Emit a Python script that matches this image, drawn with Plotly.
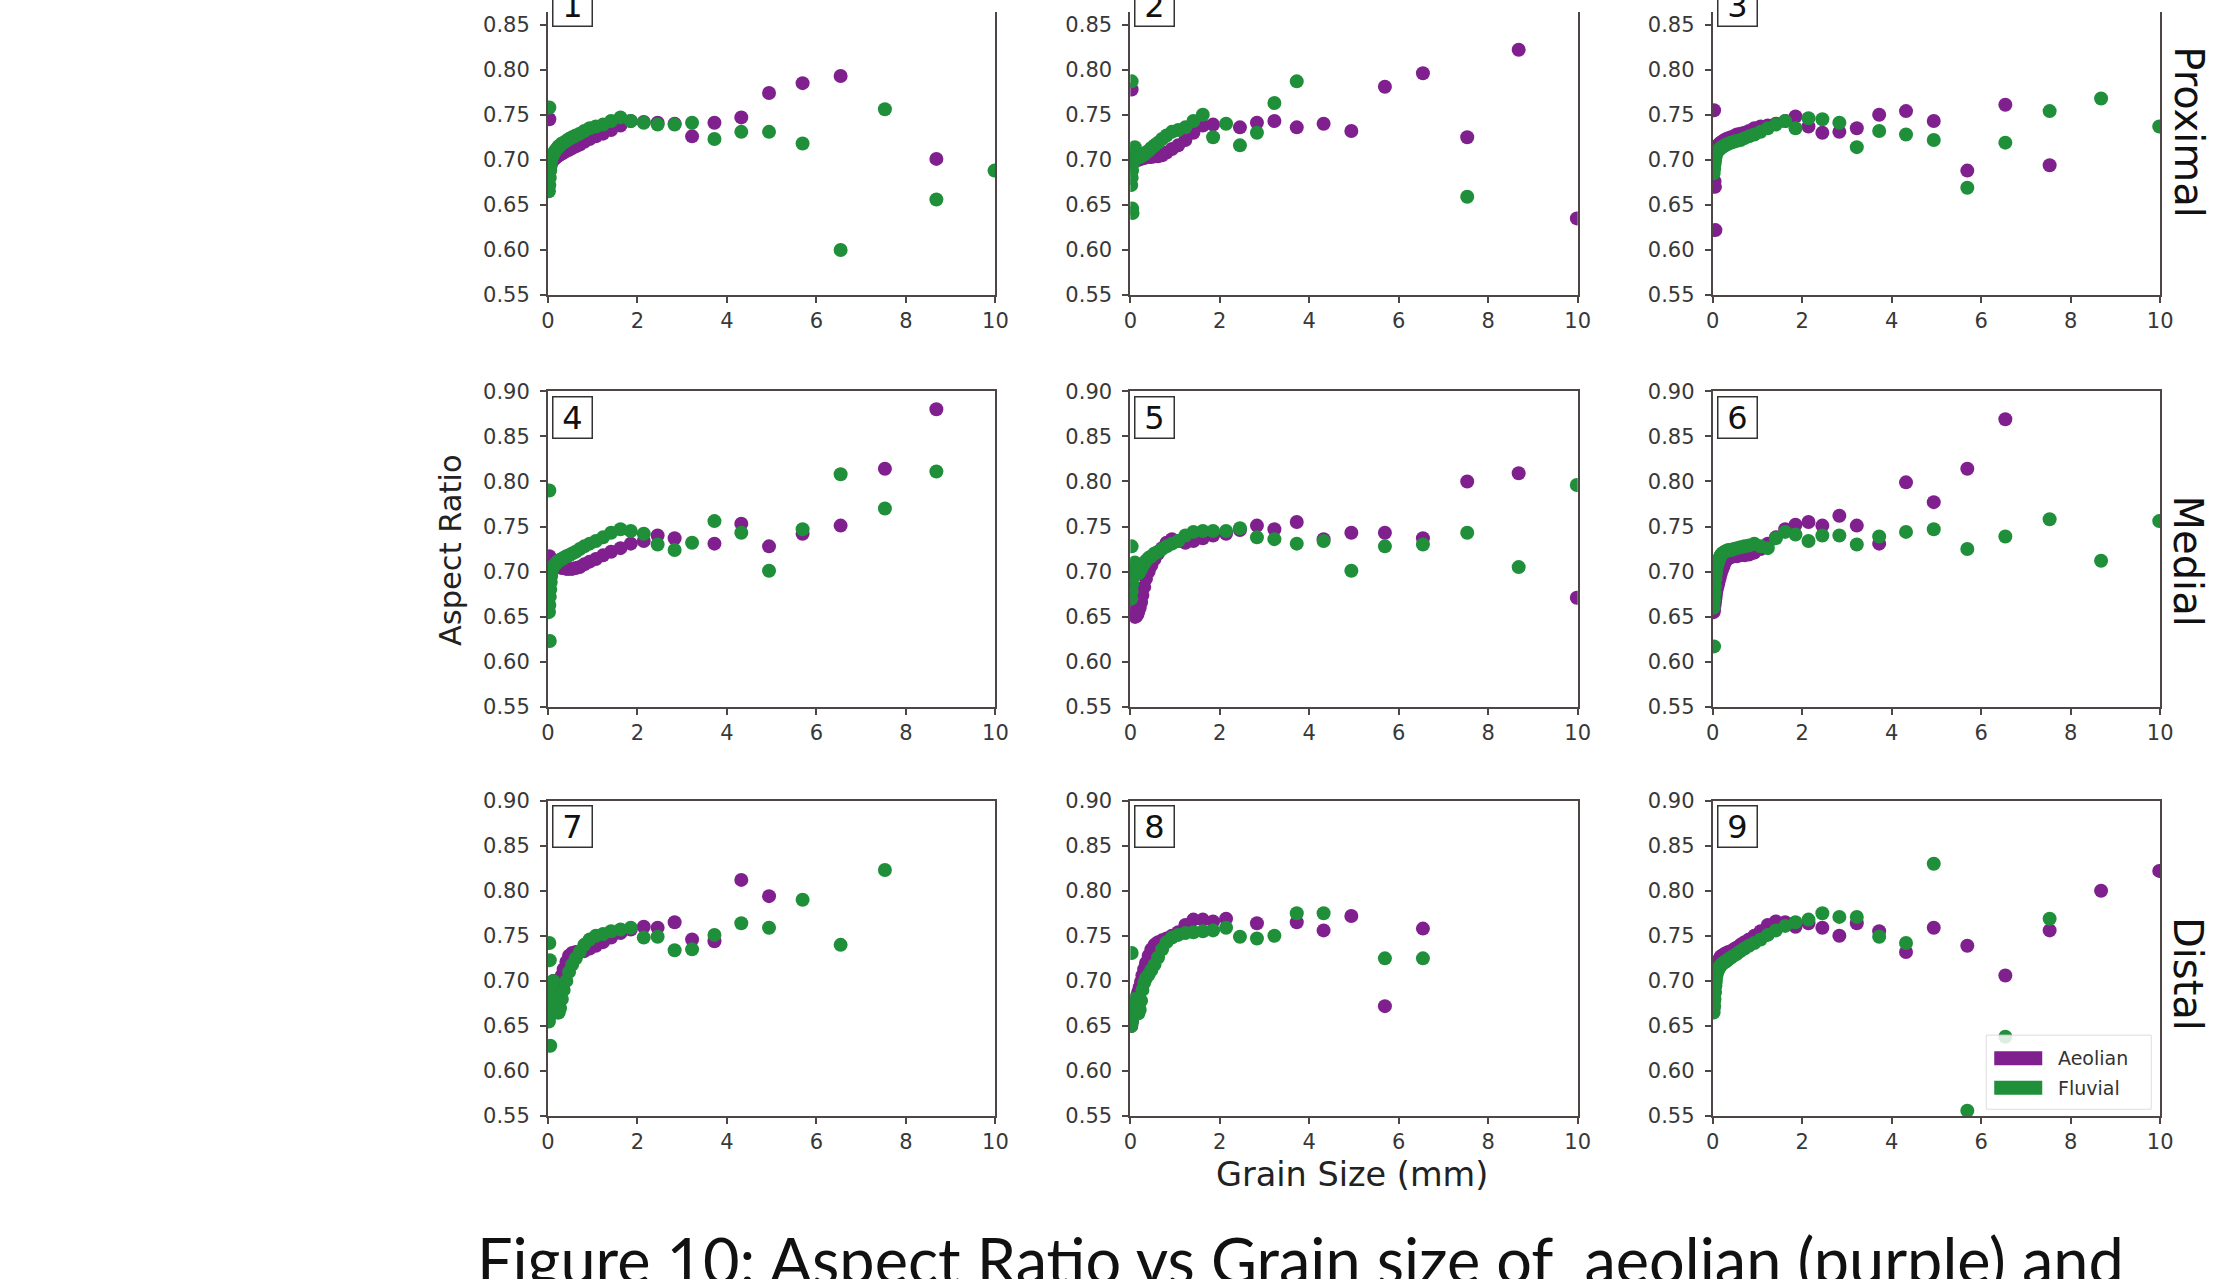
import plotly.graph_objects as go

W, H = 2227, 1279
# measured affine offset between figure pixels and the photographed page
AX, BX = 0.991, 5.8
AY, BY = 0.9805, 11.6

# Grain-size bins (mm) shared by all panels
GRAIN = [0.03, 0.04, 0.05, 0.06,
         0.02, 0.03, 0.04, 0.05, 0.06, 0.07, 0.08, 0.10,
         0.12, 0.14, 0.16, 0.18, 0.21, 0.24, 0.27, 0.31, 0.35, 0.41, 0.47, 0.54,
         0.62, 0.71, 0.81, 0.93, 1.07, 1.23, 1.41, 1.62, 1.85, 2.14, 2.45,
         2.83, 3.22, 3.72, 4.32, 4.94, 5.69, 6.54, 7.53, 8.68, 9.98]

N = None
# Panel 1
A1 = [0.745, N, N, N,
      0.682, 0.686, 0.690, 0.693, 0.695, 0.697, 0.698, 0.699,
      0.700, 0.701, 0.702, 0.703, 0.704, 0.705, 0.706, 0.707, 0.708, 0.710, 0.711, 0.713,
      0.715, 0.717, 0.720, 0.723, 0.726, 0.729, 0.733, 0.738, 0.743, 0.742, 0.741,
      0.740, 0.726, 0.741, 0.747, 0.774, 0.785, 0.793, N, 0.701, N]
F1 = [0.758, N, N, N,
      0.665, 0.672, 0.680, 0.688, 0.694, 0.699, 0.702, 0.704,
      0.706, 0.708, 0.710, 0.711, 0.713, 0.715, 0.716, 0.718, 0.719, 0.721, 0.723, 0.725,
      0.727, 0.729, 0.732, 0.735, 0.737, 0.739, 0.743, 0.747, 0.743, 0.741, 0.739,
      0.739, 0.741, 0.723, 0.731, 0.731, 0.718, 0.600, 0.756, 0.656, 0.688]
# Panel 2
A2 = [0.778, N, N, N,
      0.695, 0.697, 0.698, 0.699, 0.700, 0.700, 0.700, 0.700,
      0.700, 0.700, 0.700, 0.700, 0.701, 0.701, 0.702, 0.702, 0.703, 0.703, 0.703, 0.704,
      0.704, 0.705, 0.708, 0.712, 0.716, 0.722, 0.730, 0.738, 0.739, N, 0.736,
      0.741, 0.743, 0.736, 0.740, 0.732, 0.781, 0.796, 0.725, 0.822, 0.635]
F2 = [0.787, 0.646, 0.641, N,
      0.672, 0.680, 0.688, 0.695, 0.702, 0.708, 0.712, 0.714,
      0.702, 0.702, 0.702, 0.703, 0.703, 0.704, 0.705, 0.706, 0.708, 0.710, 0.713, 0.716,
      0.719, 0.723, 0.727, 0.731, 0.733, 0.736, 0.743, 0.750, 0.725, 0.740, 0.716,
      0.730, 0.763, 0.787, N, N, N, N, 0.659, N, N]
# Panel 3
A3 = [0.755, 0.676, 0.670, 0.622,
      0.690, 0.697, 0.703, 0.707, 0.710, 0.712, 0.714, 0.715,
      0.716, 0.717, 0.718, 0.719, 0.720, 0.721, 0.722, 0.723, 0.724, 0.725, 0.726, 0.728,
      0.729, 0.730, 0.732, 0.735, 0.737, 0.738, 0.740, 0.743, 0.748, 0.737, 0.730,
      0.731, 0.735, 0.750, 0.754, 0.743, 0.688, 0.761, 0.694, N, N]
F3 = [N, N, N, N,
      0.685, 0.690, 0.695, 0.699, 0.702, 0.705, 0.707, 0.709,
      0.710, 0.711, 0.712, 0.713, 0.714, 0.715, 0.716, 0.717, 0.718, 0.719, 0.720, 0.721,
      0.722, 0.724, 0.726, 0.728, 0.731, 0.735, 0.739, 0.743, 0.735, 0.746, 0.745,
      0.741, 0.714, 0.732, 0.728, 0.722, 0.669, 0.719, 0.754, 0.768, 0.737]
# Panel 4
A4 = [0.717, N, N, N,
      0.700, 0.702, 0.703, 0.704, 0.704, 0.705, 0.705, 0.705,
      0.705, 0.705, 0.705, 0.705, 0.705, 0.705, 0.705, 0.704, 0.704, 0.703, 0.703, 0.703,
      0.704, 0.705, 0.708, 0.711, 0.714, 0.718, 0.722, 0.726, 0.731, 0.734, 0.740,
      0.737, N, 0.731, 0.753, 0.728, 0.742, 0.751, 0.814, 0.880, N]
F4 = [0.790, 0.623, N, N,
      0.655, 0.663, 0.672, 0.680, 0.688, 0.695, 0.700, 0.704,
      0.706, 0.707, 0.708, 0.709, 0.711, 0.712, 0.713, 0.714, 0.715, 0.717, 0.718, 0.720,
      0.722, 0.725, 0.728, 0.731, 0.734, 0.738, 0.743, 0.747, 0.745, 0.742, 0.730,
      0.724, 0.732, 0.756, 0.743, 0.701, 0.747, 0.808, 0.770, 0.811, N]
# Panel 5
A5 = [N, N, N, N,
      0.700, 0.690, 0.680, 0.670, 0.662, 0.656, 0.652, 0.650,
      0.650, 0.651, 0.653, 0.656, 0.660, 0.666, 0.674, 0.683, 0.692, 0.700, 0.707, 0.714,
      0.720, 0.726, 0.732, 0.736, 0.734, 0.732, 0.734, 0.737, 0.740, 0.742, 0.746,
      0.751, 0.747, 0.755, 0.736, 0.743, 0.743, 0.737, 0.800, 0.809, 0.671]
F5 = [0.728, N, N, N,
      0.670, 0.678, 0.686, 0.694, 0.700, 0.705, 0.708, 0.710,
      0.705, 0.700, 0.698, 0.698, 0.700, 0.703, 0.706, 0.709, 0.712, 0.715, 0.717, 0.720,
      0.722, 0.725, 0.728, 0.731, 0.734, 0.740, 0.744, 0.745, 0.745, 0.745, 0.748,
      0.738, 0.736, 0.731, 0.734, 0.701, 0.728, 0.730, 0.743, 0.705, 0.796]
# Panel 6
A6 = [N, N, N, N,
      0.655, 0.658, 0.662, 0.666, 0.670, 0.674, 0.678, 0.682,
      0.686, 0.690, 0.694, 0.698, 0.702, 0.706, 0.710, 0.713, 0.715, 0.716, 0.717, 0.717,
      0.718, 0.718, 0.719, 0.721, 0.725, 0.731, 0.738, 0.747, 0.752, 0.755, 0.751,
      0.762, 0.751, 0.731, 0.799, 0.777, 0.814, 0.869, N, N, N]
F6 = [0.617, N, N, N,
      0.660, 0.668, 0.676, 0.684, 0.692, 0.698, 0.703, 0.707,
      0.710, 0.713, 0.716, 0.718, 0.720, 0.721, 0.722, 0.723, 0.724, 0.724, 0.725, 0.726,
      0.727, 0.728, 0.729, 0.731, 0.728, 0.726, 0.737, 0.744, 0.741, 0.734, 0.740,
      0.740, 0.730, 0.739, 0.744, 0.747, 0.725, 0.739, 0.758, 0.712, 0.756]
# Panel 7
A7 = [N, N, N, N,
      0.660, 0.666, 0.672, 0.678, 0.684, 0.690, 0.695, 0.698,
      0.700, 0.700, 0.698, 0.696, 0.695, 0.697, 0.700, 0.706, 0.713, 0.721, 0.728, 0.731,
      0.732, 0.732, 0.733, 0.736, 0.739, 0.743, 0.748, 0.753, 0.757, 0.760, 0.759,
      0.765, 0.746, 0.744, 0.812, 0.794, N, N, N, N, N]
F7 = [0.742, 0.723, 0.628, N,
      0.655, 0.662, 0.668, 0.674, 0.680, 0.686, 0.692, 0.698,
      0.700, 0.690, 0.680, 0.672, 0.665, 0.665, 0.670, 0.680, 0.690, 0.700, 0.710, 0.718,
      0.725, 0.732, 0.740, 0.746, 0.750, 0.752, 0.755, 0.757, 0.759, 0.748, 0.749,
      0.734, 0.735, 0.751, 0.764, 0.759, 0.790, 0.740, 0.823, N, N]
# Panel 8
A8 = [N, N, N, N,
      0.650, 0.653, 0.656, 0.659, 0.662, 0.665, 0.668, 0.672,
      0.676, 0.680, 0.684, 0.688, 0.693, 0.699, 0.706, 0.713, 0.720, 0.728, 0.735, 0.740,
      0.743, 0.745, 0.747, 0.750, 0.754, 0.762, 0.768, 0.768, 0.766, 0.769, N,
      0.764, N, 0.765, 0.756, 0.772, 0.672, 0.758, N, N, N]
F8 = [0.731, N, N, N,
      0.650, 0.654, 0.658, 0.662, 0.666, 0.670, 0.675, 0.680,
      0.672, 0.668, 0.665, 0.664, 0.668, 0.678, 0.690, 0.698, 0.703, 0.707, 0.712, 0.718,
      0.726, 0.735, 0.743, 0.748, 0.751, 0.753, 0.754, 0.755, 0.756, 0.759, 0.749,
      0.747, 0.750, 0.775, 0.775, N, 0.725, 0.725, N, N, N]
# Panel 9
A9 = [N, N, N, N,
      0.670, 0.678, 0.686, 0.694, 0.702, 0.708, 0.714, 0.718,
      0.721, 0.723, 0.725, 0.727, 0.728, 0.729, 0.730, 0.731, 0.732, 0.733, 0.735, 0.737,
      0.740, 0.743, 0.746, 0.750, 0.755, 0.762, 0.766, 0.765, 0.760, 0.764, 0.759,
      0.750, 0.764, 0.755, 0.732, 0.759, 0.739, 0.706, 0.756, 0.800, 0.822]
F9 = [N, N, N, N,
      0.665, 0.672, 0.680, 0.688, 0.695, 0.700, 0.705, 0.709,
      0.712, 0.714, 0.716, 0.717, 0.719, 0.720, 0.721, 0.722, 0.724, 0.726, 0.728, 0.730,
      0.733, 0.736, 0.739, 0.742, 0.746, 0.751, 0.756, 0.761, 0.765, 0.768, 0.775,
      0.771, 0.771, 0.749, 0.742, 0.830, 0.556, 0.638, 0.769, N, N]

AEOLIAN = [A1, A2, A3, A4, A5, A6, A7, A8, A9]
FLUVIAL = [F1, F2, F3, F4, F5, F6, F7, F8, F9]
PANEL_LABELS = ["1", "2", "3", "4", "5", "6", "7", "8", "9"]
ROW_LABELS = ["Proximal", "Medial", "Distal"]
X_TICKS = [0, 2, 4, 6, 8, 10]
Y_TICKS = [0.55, 0.60, 0.65, 0.70, 0.75, 0.80, 0.85, 0.90]
SERIES_NAMES = ["Aeolian", "Fluvial"]
CAPTION = "Figure 10: Aspect Ratio vs Grain size of  aeolian (purple) and"

PURPLE = "#80208f"
GREEN = "#1f8f3a"
AXC = "#4e4545"
TXT = "#383838"

# target layout geometry (page pixels)
COL_LEFT = [546.8, 1129.1, 1711.5]
COL_W = 447.4
ROW_TOP = [-20.9, 390.6, 799.6]
ROW_H = 315.3

def fx(X):
    return (X - BX) / AX

def fy(Y):
    return (Y - BY) / AY

def px(X):
    return fx(X) / W

def py(Y):
    return 1 - fy(Y) / H

fig = go.Figure()
layout = dict(width=W, height=H, margin=dict(l=0, r=0, t=0, b=0), autosize=False,
              paper_bgcolor="white", plot_bgcolor="white", showlegend=False)
annotations = []
shapes = []

for k in range(9):
    r, c = divmod(k, 3)
    sfx = "" if k == 0 else str(k + 1)
    top_v = fy(ROW_TOP[r])
    bot_f = fy(ROW_TOP[r] + ROW_H)
    top_f = max(top_v, 0.0)
    ytop = 0.55 + 0.35 * (bot_f - top_f) / (bot_f - top_v)
    xa = "x" + sfx
    ya = "y" + sfx
    fig.add_trace(go.Scatter(x=GRAIN, y=AEOLIAN[k], mode="markers", name=SERIES_NAMES[0],
                             marker=dict(color=PURPLE, size=14, line=dict(width=0)),
                             xaxis=xa, yaxis=ya))
    fig.add_trace(go.Scatter(x=GRAIN, y=FLUVIAL[k], mode="markers", name=SERIES_NAMES[1],
                             marker=dict(color=GREEN, size=14, line=dict(width=0)),
                             xaxis=xa, yaxis=ya))
    layout["xaxis" + sfx] = dict(
        domain=[px(COL_LEFT[c]), px(COL_LEFT[c] + COL_W)], anchor=ya,
        range=[0, 10], tickvals=X_TICKS, ticktext=[str(v) for v in X_TICKS],
        showgrid=False, zeroline=False, showline=True, linecolor=AXC, linewidth=2,
        mirror=(r > 0), ticks="outside", ticklen=6, tickwidth=1.5, tickcolor=AXC,
        tickfont=dict(family="DejaVu Sans", size=21, color=TXT), fixedrange=True)
    layout["yaxis" + sfx] = dict(
        domain=[1 - bot_f / H, 1 - top_f / H], anchor=xa,
        range=[0.55, ytop], tickvals=Y_TICKS, tickformat=".2f",
        showgrid=False, zeroline=False, showline=True, linecolor=AXC, linewidth=2,
        mirror=True, ticks="outside", ticklen=6, tickwidth=1.5, tickcolor=AXC,
        ticklabelstandoff=6,
        tickfont=dict(family="DejaVu Sans", size=21, color=TXT), fixedrange=True)
    # panel number box
    annotations.append(dict(
        x=px(COL_LEFT[c] + 4), y=py(ROW_TOP[r] + 4.5), xref="paper", yref="paper",
        xanchor="left", yanchor="top", text=PANEL_LABELS[k], showarrow=False,
        font=dict(family="DejaVu Sans", size=32, color="#111111"),
        width=36, height=38, borderpad=1, borderwidth=1.5, bordercolor="#333333",
        bgcolor="white"))

# row labels
for r, lab in enumerate(ROW_LABELS):
    yc = [132, 560, 973][r]
    annotations.append(dict(x=px(2187), y=py(yc), xref="paper", yref="paper",
                            text=lab, textangle=90, showarrow=False,
                            xanchor="center", yanchor="middle",
                            font=dict(family="DejaVu Sans", size=40, color="#111111")))

# axis titles
annotations.append(dict(x=px(450), y=py(549), xref="paper", yref="paper",
                        text="Aspect Ratio", textangle=-90, showarrow=False,
                        xanchor="center", yanchor="middle",
                        font=dict(family="DejaVu Sans", size=30.5, color="#222222")))
annotations.append(dict(x=px(1351), y=py(1173), xref="paper", yref="paper",
                        text="Grain Size (mm)", showarrow=False,
                        xanchor="center", yanchor="middle",
                        font=dict(family="DejaVu Sans", size=33.5, color="#222222")))

# legend (inside panel 9)
shapes.append(dict(type="rect", xref="paper", yref="paper",
                   x0=px(1985), x1=px(2150), y0=py(1108), y1=py(1034),
                   fillcolor="rgba(255,255,255,0.85)", line=dict(color="#dddddd", width=1),
                   layer="above"))
for i, (nm, col) in enumerate(zip(SERIES_NAMES, [PURPLE, GREEN])):
    yc = [1057, 1086.5][i]
    shapes.append(dict(type="rect", xref="paper", yref="paper",
                       x0=px(1993), x1=px(2041), y0=py(yc + 7), y1=py(yc - 7),
                       fillcolor=col, line=dict(width=0), layer="above"))
    annotations.append(dict(x=px(2055), y=py(yc), xref="paper", yref="paper",
                            text=nm, showarrow=False, xanchor="left", yanchor="middle",
                            font=dict(family="DejaVu Sans", size=19, color="#333333")))

# caption
annotations.append(dict(x=px(1299), y=py(1258), xref="paper", yref="paper",
                        text=CAPTION, showarrow=False, xanchor="center", yanchor="middle",
                        font=dict(family="Lato", size=63, color="#111111")))

layout["annotations"] = annotations
layout["shapes"] = shapes
fig.update_layout(**layout)
fig.write_html("out.html")
